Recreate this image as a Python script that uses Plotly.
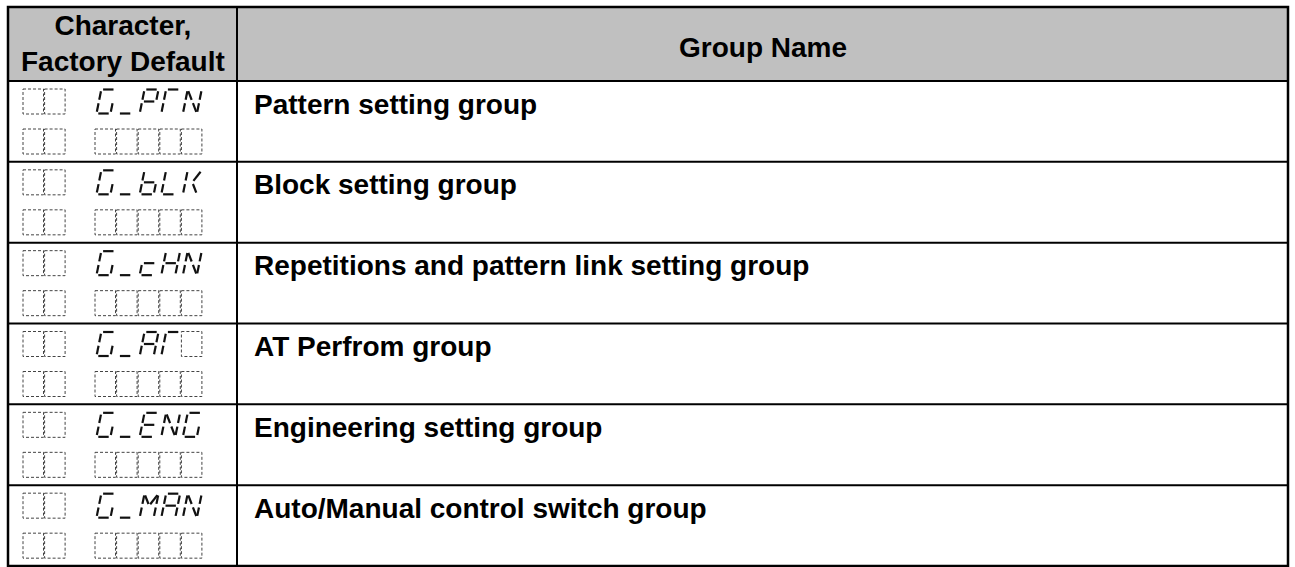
import plotly.graph_objects as go

# ---------------- data ----------------
header_labels = ["Character,<br>Factory Default", "Group Name"]
group_codes = ["G_PTN", "G_bLK", "G_cHN", "G_AT ", "G_ENG", "G_MAN"]
group_names = [
    "Pattern setting group",
    "Block setting group",
    "Repetitions and pattern link setting group",
    "AT Perfrom group",
    "Engineering setting group",
    "Auto/Manual control switch group",
]
prefix_blank_digits = 2

# ---------------- layout constants ----------------
W, H = 1295, 567
LEFT, RIGHT, TOP, BOTTOM = 8, 1288, 7, 566
HEAD_BOTTOM = 81
COL_SPLIT = 237
N_ROWS = len(group_codes)
ROW_H = (BOTTOM - HEAD_BOTTOM) / N_ROWS

PITCH = 21.6
BOX_W = 20.5
BOX_H = 25
PREFIX_X = 23
CODE_X = 95
LINE_OFFS = [8, 48]

FONT = "Liberation Sans, Arial, sans-serif"
HEAD_FS = 28
BODY_FS = 28

# 7/14-segment font definition (unit coords: u across, v up)
SEG = {
    "a": ((0, 1), (1, 1)),
    "b": ((1, 1), (1, 0.5)),
    "c": ((1, 0.5), (1, 0)),
    "d": ((0, 0), (1, 0)),
    "e": ((0, 0), (0, 0.5)),
    "f": ((0, 0.5), (0, 1)),
    "g": ((0, 0.5), (1, 0.5)),
    "h": ((0, 1), (0.5, 0.5)),
    "i": ((1, 1), (0.5, 0.5)),
    "j": ((0.5, 0.5), (1, 0)),
}
CHARMAP = {
    "G": "afedc",
    "_": "d",
    "P": "abfge",
    "T": "afe",
    "N": "febchj",
    "b": "fedcg",
    "L": "fed",
    "K": "feij",
    "c": "ged",
    "H": "febcg",
    "A": "abcefg",
    "E": "afedg",
    "M": "febchi",
}
GW, GH, SLANT, GAP = 14, 24, 0.2, 1.8

box_x, box_y = [], []
seg_x, seg_y = [], []


def add_box(x0, yt):
    xs = [x0, x0 + BOX_W, x0 + BOX_W, x0, x0, None]
    ys = [yt, yt, yt + BOX_H, yt + BOX_H, yt, None]
    box_x.extend(xs)
    box_y.extend(ys)


def to_px(x0, yb, u, v):
    return x0 + 1.5 + u * GW + SLANT * v * GH, yb - v * GH


def add_char(ch, x0, yt):
    yb = yt + BOX_H - 0.5
    for s in CHARMAP.get(ch, ""):
        (u1, v1), (u2, v2) = SEG[s]
        p1 = to_px(x0, yb, u1, v1)
        p2 = to_px(x0, yb, u2, v2)
        dx, dy = p2[0] - p1[0], p2[1] - p1[1]
        L = (dx * dx + dy * dy) ** 0.5
        gx, gy = dx / L * GAP, dy / L * GAP
        seg_x.extend([p1[0] + gx, p2[0] - gx, None])
        seg_y.extend([p1[1] + gy, p2[1] - gy, None])


for r, code in enumerate(group_codes):
    top = HEAD_BOTTOM + r * ROW_H
    for li, off in enumerate(LINE_OFFS):
        yt = top + off
        for k in range(prefix_blank_digits):
            add_box(PREFIX_X + k * PITCH, yt)
        for k, ch in enumerate(code):
            x0 = CODE_X + k * PITCH
            if li == 1 or ch == " ":
                add_box(x0, yt)
            else:
                add_char(ch, x0, yt)

fig = go.Figure()
fig.add_trace(go.Scatter(x=box_x, y=box_y, mode="lines",
                         line=dict(color="#444444", width=1, dash="3px,2px"),
                         hoverinfo="skip", showlegend=False))
fig.add_trace(go.Scatter(x=seg_x, y=seg_y, mode="lines",
                         line=dict(color="#111111", width=2.2),
                         hoverinfo="skip", showlegend=False))

shapes = []
shapes.append(dict(type="rect", xref="x", yref="y", x0=LEFT, x1=RIGHT, y0=TOP, y1=HEAD_BOTTOM,
                   fillcolor="#C0C0C0", line=dict(width=0), layer="below"))
for yv in [HEAD_BOTTOM] + [HEAD_BOTTOM + i * ROW_H for i in range(1, N_ROWS)]:
    shapes.append(dict(type="line", xref="x", yref="y", x0=LEFT, x1=RIGHT, y0=yv, y1=yv,
                       line=dict(color="black", width=2)))
shapes.append(dict(type="line", xref="x", yref="y", x0=COL_SPLIT, x1=COL_SPLIT, y0=TOP, y1=BOTTOM,
                   line=dict(color="black", width=2)))
shapes.append(dict(type="rect", xref="x", yref="y", x0=LEFT, x1=RIGHT, y0=TOP, y1=BOTTOM,
                   line=dict(color="black", width=2.5), fillcolor="rgba(0,0,0,0)"))

annotations = []
annotations.append(dict(x=(LEFT + COL_SPLIT) / 2, y=(TOP + HEAD_BOTTOM) / 2 - 1, xref="x", yref="y",
                        text="<b>" + header_labels[0] + "</b>", showarrow=False,
                        xanchor="center", yanchor="middle", align="center",
                        font=dict(family=FONT, size=HEAD_FS, color="black")))
annotations.append(dict(x=(COL_SPLIT + RIGHT) / 2, y=(TOP + HEAD_BOTTOM) / 2 + 3, xref="x", yref="y",
                        text="<b>" + header_labels[1] + "</b>", showarrow=False,
                        xanchor="center", yanchor="middle",
                        font=dict(family=FONT, size=HEAD_FS, color="black")))
for r, name in enumerate(group_names):
    top = HEAD_BOTTOM + r * ROW_H
    annotations.append(dict(x=COL_SPLIT + 15, y=top + 23, xref="x", yref="y",
                            text="<b>" + name + "</b>", showarrow=False,
                            xanchor="left", yanchor="middle",
                            font=dict(family=FONT, size=BODY_FS, color="black")))

fig.update_layout(
    width=W, height=H,
    margin=dict(l=0, r=0, t=0, b=0),
    paper_bgcolor="white", plot_bgcolor="white",
    xaxis=dict(range=[0, W], visible=False, fixedrange=True),
    yaxis=dict(range=[H, 0], visible=False, fixedrange=True),
    shapes=shapes, annotations=annotations,
)

fig.write_html("out.html", config={"displayModeBar": False},
               post_script="document.body.style.margin='0px';document.body.style.overflow='hidden';")
